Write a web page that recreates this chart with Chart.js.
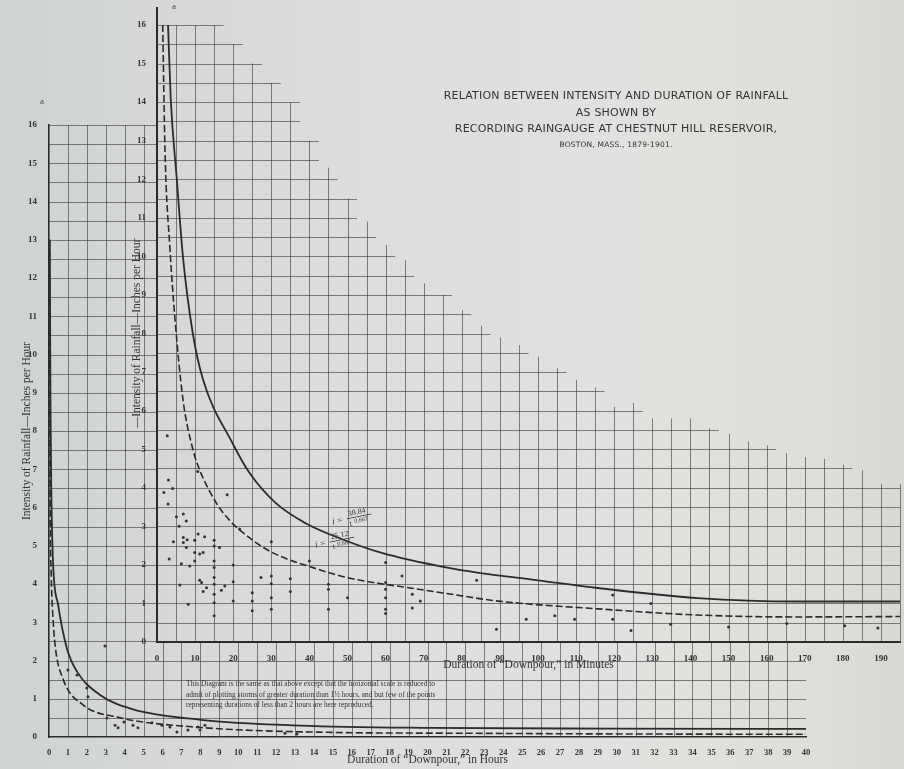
<!DOCTYPE html>
<html>
<head>
<meta charset="utf-8">
<script src="https://cdn.jsdelivr.net/npm/chart.js@4.4.0/dist/chart.umd.min.js"></script>
<style>
  html, body { margin: 0; padding: 0; }
  body {
    width: 904px; height: 769px; position: relative; overflow: hidden;
    background: linear-gradient(90deg, #cfd2d3 0%, #d5d7d7 15%, #dcdddc 40%, #e1e1df 70%, #dfddd9 92%, #d9d7d2 100%);
  }
  canvas { position: absolute; left: 0; top: 0; }
  #hoursChart { z-index: 1; }
  #minutesChart { z-index: 2; }
  .title {
    position: absolute; z-index: 3; left: 400px; width: 432px; top: 88px;
    text-align: center; font-family: "DejaVu Sans"; color: #333;
  }
  .title div { font-size: 11px; line-height: 16.5px; letter-spacing: 0.2px; }
  .title .small { font-size: 7.5px; line-height: 14px; }
  .note {
    position: absolute; z-index: 3; left: 186px; top: 679px; width: 360px;
    font-family: "Liberation Serif"; font-size: 7.4px; line-height: 10.5px; color: #333;
  }
  .mark { position: absolute; z-index: 3; font-family: "Liberation Serif"; font-size: 9px; color: #444; }
</style>
</head>
<body>
<canvas id="hoursChart" width="904" height="769"></canvas>
<canvas id="minutesChart" width="904" height="769"></canvas>

<div class="title">
  <div>RELATION BETWEEN INTENSITY AND DURATION OF RAINFALL</div>
  <div>AS SHOWN BY</div>
  <div>RECORDING RAINGAUGE AT CHESTNUT HILL RESERVOIR,</div>
  <div class="small">BOSTON, MASS., 1879-1901.</div>
</div>
<div class="note">
  This Diagram is the same as that above except that the horizontal scale is reduced to<br>
  admit of plotting storms of greater duration than 1½ hours, and but few of the points<br>
  representing durations of less than 2 hours are here reproduced.
</div>
<div class="mark" style="left:40px; top:96px;">a</div>
<div class="mark" style="left:172px; top:1px;">a</div>

<script>
// ---- inner diagram: duration in minutes ----
const solidMinutes = [2.9, 3.6, 5.2, 6.8, 9.4, 12.1, 19.8, 24.3, 31.2, 39, 46.9, 59, 76.5, 84, 100, 115.7, 141.8, 168, 195];
const solidMinIntensity = [16, 14.1, 12, 10, 8, 6.8, 5.16, 4.38, 3.6, 3.08, 2.73, 2.31, 1.92, 1.8, 1.6, 1.4, 1.14, 1.05, 1.05];
const dashedMinutes = [1.5, 2.1, 3.4, 4.7, 6.8, 9.4, 11.2, 15.6, 19, 22, 29.5, 41.8, 50.4, 67.9, 76.5, 89.6, 115.7, 141.8, 168, 195];
const dashedMinIntensity = [16, 12.75, 10.2, 8.4, 6.3, 5.0, 4.46, 3.6, 3.16, 2.88, 2.36, 1.9, 1.66, 1.38, 1.25, 1.06, 0.86, 0.7, 0.65, 0.66];

const stormMinutes = [2.7, 3.0, 1.8, 4.1, 2.9, 5.1, 6.9, 7.7, 5.8, 4.3, 6.9, 7.9, 6.9, 9.9, 10.8, 12.5, 15, 15, 16.4, 7.7,
  9.9, 11.2, 12.1, 9.9, 3.2, 6.4, 8.6, 15, 15, 11.2, 11.7, 13.0, 12.1, 15, 15, 15, 15, 15, 16.9, 17.8,
  8.2, 6.0, 18.4, 20, 20, 20, 21.7, 25, 25, 25, 27.3, 30, 30, 30, 30, 30, 35, 35, 40, 45,
  45, 45, 50, 60, 60, 60, 60, 60, 60, 64.3, 67, 67, 69.1, 10.7, 83.9, 89.1, 96.9, 104.4, 109.6, 119.6,
  119.6, 124.4, 129.6, 134.8, 150, 165.3, 180.5, 189.2];
const stormIntensity = [5.35, 4.2, 3.88, 3.98, 3.58, 3.25, 3.32, 3.14, 3.0, 2.6, 2.71, 2.65, 2.58, 2.64, 2.8, 2.73, 2.64, 2.49, 2.45, 2.45,
  2.32, 2.28, 2.32, 2.1, 2.15, 2.03, 1.97, 2.1, 1.93, 1.6, 1.54, 1.41, 1.31, 1.67, 1.5, 1.24, 1.02, 0.68, 1.34, 1.45,
  0.98, 1.48, 3.82, 2.0, 1.56, 1.06, 2.93, 1.28, 1.06, 0.81, 1.67, 2.6, 1.71, 1.51, 1.15, 0.85, 1.64, 1.31, 2.1, 1.5,
  1.37, 0.85, 1.15, 2.06, 1.54, 1.37, 1.15, 0.85, 0.74, 1.71, 1.24, 0.88, 1.06, 4.42, 1.6, 0.33, 0.59, 0.68, 0.59, 1.22,
  0.59, 0.3, 1.0, 0.46, 0.39, 0.48, 0.42, 0.36];

// printed grid of the inner diagram stops in a staircase: top of each 5-minute rule
const gridMinutes = [0, 5, 10, 15, 20, 25, 30, 35, 40, 45, 50, 55, 60, 65, 70, 75, 80, 85, 90, 95,
  100, 105, 110, 115, 120, 125, 130, 135, 140, 145, 150, 155, 160, 165, 170, 175, 180, 185, 190, 195];
const gridTop = [16, 16, 16, 16, 15.5, 15, 14.5, 14, 13, 12.3, 11.5, 10.9, 10.3, 9.9, 9.3, 9.0, 8.6, 8.2, 7.9, 7.7,
  7.4, 7.1, 6.8, 6.6, 6.1, 6.2, 5.8, 5.8, 5.8, 5.55, 5.4, 5.2, 5.1, 4.9, 4.8, 4.75, 4.6, 4.45, 4.1, 4.1];

const formulaAt = [[46, 3.1], [41.5, 2.5]];
const formulaNum = ['38.84', '25.12'];

// ---- outer diagram: duration in hours ----
const solidHours = [0.04, 0.08, 0.12, 0.21, 0.48, 0.95, 1.48, 2.7, 4.4, 8, 13.3, 20, 30, 40];
const solidHourIntensity = [13, 8.5, 6.5, 4.6, 3.46, 2.31, 1.71, 1.1, 0.73, 0.45, 0.3, 0.24, 0.22, 0.21];
const dashedHours = [0.03, 0.06, 0.12, 0.2, 0.32, 0.74, 1.8, 3.6, 8, 15, 21, 30, 40];
const dashedHourIntensity = [13, 6.5, 4.2, 3.2, 2.41, 1.52, 0.84, 0.52, 0.25, 0.12, 0.1, 0.08, 0.07];
const stormHours = [2.96, 1.0, 1.48, 2.0, 2.06, 3.06, 3.49, 3.65, 3.96, 4.44, 4.7, 5.44, 5.97, 6.39, 6.76, 7.34, 7.87, 8.24, 7.98, 12.47, 13.1];
const stormHourIntensity = [2.38, 1.75, 1.62, 1.28, 1.05, 0.5, 0.31, 0.24, 0.39, 0.31, 0.24, 0.37, 0.31, 0.26, 0.13, 0.18, 0.26, 0.31, 0.18, 0.1, 0.08];

const INK = '#2b2b2b';
const GRID = 'rgba(60,60,60,0.62)';
const tickFont = { family: 'Liberation Serif', size: 9, weight: 'bold' };
const titleFont = { family: 'Liberation Serif', size: 11.5 };

const pts = (xs, ys) => xs.map((v, k) => ({ x: v, y: ys[k] }));

function curve(label, xs, ys, dashed) {
    return {
        label, data: pts(xs, ys), showLine: true, pointRadius: 0,
        borderColor: INK, borderWidth: dashed ? 1.6 : 1.8,
        borderDash: dashed ? [7, 3] : [], cubicInterpolationMode: 'monotone'
    };
}
function dots(label, xs, ys) {
    return { label, data: pts(xs, ys), pointRadius: 1.5, pointBackgroundColor: '#333', pointBorderWidth: 0, showLine: false };
}

const minuteGrid = {
    id: 'minuteGrid',
    beforeDatasetsDraw(chart) {
        const { ctx, scales: { x, y } } = chart;
        ctx.save();
        ctx.strokeStyle = GRID;
        ctx.lineWidth = 1;
        ctx.beginPath();
        gridMinutes.forEach((m, k) => {
            if (m === 0) return;
            const px = Math.round(x.getPixelForValue(m)) + 0.5;
            ctx.moveTo(px, y.getPixelForValue(0));
            ctx.lineTo(px, y.getPixelForValue(gridTop[k]));
        });
        for (let v = 0.5; v <= 16; v += 0.5) {
            let k = 0;
            while (k + 1 < gridTop.length && gridTop[k + 1] >= v) k++;
            const end = Math.min(gridMinutes[k] + 2.5, x.max);
            const py = Math.round(y.getPixelForValue(v)) + 0.5;
            ctx.moveTo(x.getPixelForValue(0), py);
            ctx.lineTo(x.getPixelForValue(end), py);
        }
        ctx.stroke();
        // the vertical rule of the axis runs a little past the top value
        ctx.strokeStyle = INK;
        ctx.lineWidth = 2;
        ctx.beginPath();
        ctx.moveTo(x.getPixelForValue(0), y.getPixelForValue(16));
        ctx.lineTo(x.getPixelForValue(0), y.getPixelForValue(16) - 18);
        ctx.stroke();
        ctx.restore();
    },
    afterDatasetsDraw(chart) {
        const { ctx, scales: { x, y } } = chart;
        ctx.save();
        ctx.fillStyle = '#333';
        formulaAt.forEach(([t, i], k) => {
            ctx.save();
            ctx.translate(x.getPixelForValue(t), y.getPixelForValue(i));
            ctx.rotate(-0.2);
            ctx.font = 'italic 9px "Liberation Serif"';
            ctx.fillText('i =', 0, 2);
            ctx.font = '8px "Liberation Serif"';
            ctx.fillText(formulaNum[k], 17, -3);
            ctx.fillRect(15, -1, 25, 0.8);
            ctx.fillText('t', 17, 7);
            ctx.font = '6px "Liberation Serif"';
            ctx.fillText('0.667', 22, 5);
            ctx.restore();
        });
        ctx.restore();
    }
};

const minutesChart = new Chart(document.getElementById('minutesChart'), {
    type: 'scatter',
    data: {
        datasets: [
            curve('upper', solidMinutes, solidMinIntensity, false),
            curve('lower', dashedMinutes, dashedMinIntensity, true),
            dots('storms', stormMinutes, stormIntensity)
        ]
    },
    options: {
        responsive: false, animation: false, devicePixelRatio: 1,
        layout: { padding: { left: 120, top: 25, right: 0, bottom: 95 } },
        plugins: { legend: { display: false }, tooltip: { enabled: false } },
        scales: {
            x: {
                type: 'linear', min: 0, max: 195, position: 'bottom',
                grid: { display: false }, border: { display: true, color: INK, width: 2 },
                ticks: { stepSize: 10, includeBounds: false, color: '#333', font: tickFont, padding: 3, maxRotation: 0, autoSkip: false },
                afterBuildTicks: s => { s.ticks = s.ticks.filter(t => t.value % 10 === 0); },
                afterFit: s => { s.height = 32; },
                title: { display: true, text: 'Duration of \u201cDownpour,\u201d in Minutes', color: '#333', font: titleFont, padding: 2 }
            },
            y: {
                type: 'linear', min: 0, max: 16, position: 'left',
                grid: { display: false }, border: { display: true, color: INK, width: 2 },
                ticks: { stepSize: 1, color: '#333', font: tickFont, padding: 3 },
                afterFit: s => { s.width = 37; },
                title: { display: true, text: '\u2014Intensity of Rainfall\u2014Inches per Hour', color: '#333', font: titleFont, padding: { top: 10, bottom: 0 } }
            }
        }
    },
    plugins: [minuteGrid]
});

const hourGrid = {
    id: 'hourGrid',
    beforeDatasetsDraw(chart) {
        const { ctx, chartArea: a, scales: { x, y } } = chart;
        const inner = minutesChart.chartArea;
        ctx.save();
        ctx.beginPath();
        ctx.rect(a.left, a.top, inner.left - a.left, a.bottom - a.top);
        ctx.rect(inner.left, inner.bottom, a.right - inner.left, a.bottom - inner.bottom);
        ctx.clip();
        ctx.strokeStyle = GRID;
        ctx.lineWidth = 1;
        ctx.beginPath();
        for (let h = 1; h <= 40; h++) {
            const px = Math.round(x.getPixelForValue(h)) + 0.5;
            ctx.moveTo(px, a.bottom);
            ctx.lineTo(px, a.top);
        }
        for (let v = 0.5; v <= 16; v += 0.5) {
            const py = Math.round(y.getPixelForValue(v)) + 0.5;
            ctx.moveTo(a.left, py);
            ctx.lineTo(a.right, py);
        }
        ctx.stroke();
        ctx.restore();
    }
};

new Chart(document.getElementById('hoursChart'), {
    type: 'scatter',
    data: {
        datasets: [
            curve('upper', solidHours, solidHourIntensity, false),
            curve('lower', dashedHours, dashedHourIntensity, true),
            dots('storms', stormHours, stormHourIntensity)
        ]
    },
    options: {
        responsive: false, animation: false, devicePixelRatio: 1,
        layout: { padding: { left: 12, top: 125, right: 98, bottom: 0 } },
        plugins: { legend: { display: false }, tooltip: { enabled: false } },
        scales: {
            x: {
                type: 'linear', min: 0, max: 40, position: 'bottom',
                grid: { display: false }, border: { display: true, color: INK, width: 1.6 },
                ticks: { stepSize: 1, color: '#333', font: { family: 'Liberation Serif', size: 8.5, weight: 'bold' }, padding: 3, maxRotation: 0, autoSkip: false },
                afterFit: s => { s.height = 32; },
                title: { display: true, text: 'Duration of \u201cDownpour,\u201d in Hours', color: '#333', font: titleFont, padding: 2 }
            },
            y: {
                type: 'linear', min: 0, max: 16, position: 'left',
                grid: { display: false }, border: { display: true, color: INK, width: 1.6 },
                ticks: { stepSize: 1, color: '#333', font: tickFont, padding: 4 },
                afterFit: s => { s.width = 37; },
                title: { display: true, text: 'Intensity of Rainfall\u2014Inches per Hour', color: '#333', font: titleFont, padding: { top: 8, bottom: 0 } }
            }
        }
    },
    plugins: [hourGrid]
});
</script>
</body>
</html>
